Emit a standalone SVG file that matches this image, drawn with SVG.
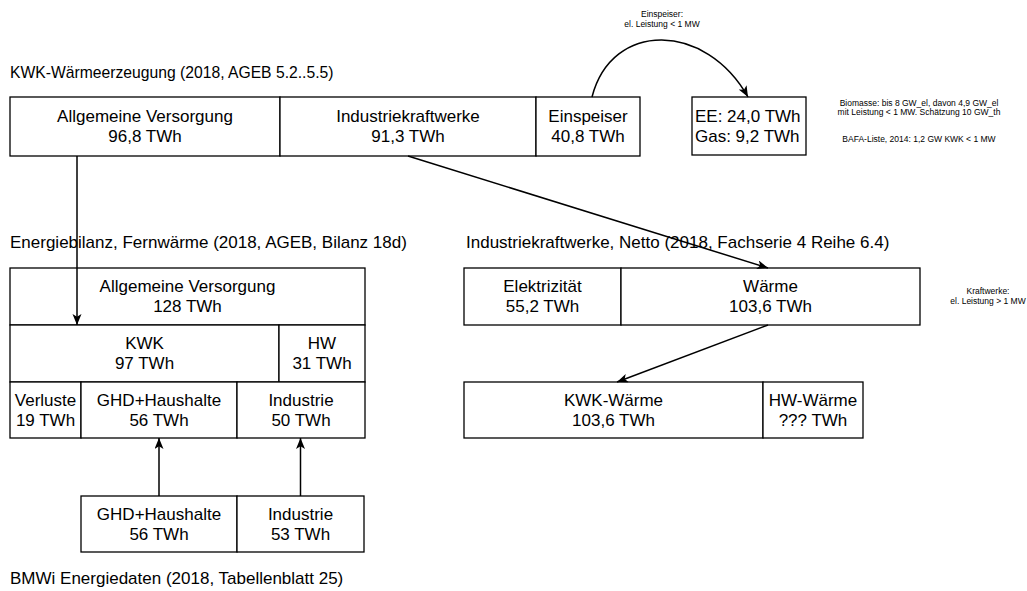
<svg xmlns="http://www.w3.org/2000/svg" width="1027" height="591" viewBox="0 0 1027 591">
<style>
.box{fill:#fff;stroke:#000;stroke-width:1.3}
.t{font-family:"Liberation Sans",Arial,sans-serif;font-size:17px;fill:#000;text-anchor:middle;dominant-baseline:central}
.h{font-family:"Liberation Sans",Arial,sans-serif;font-size:17px;fill:#000;dominant-baseline:central}
.s{font-family:"Liberation Sans",Arial,sans-serif;font-size:8.5px;fill:#000;text-anchor:middle;dominant-baseline:central}
.c{fill:none;stroke:#000;stroke-width:1.5}
</style>
<defs>
<marker id="ah" markerUnits="userSpaceOnUse" markerWidth="12" markerHeight="10" refX="11" refY="4.5" orient="auto">
<path d="M0,0 L11,4.5 L0,9 L2.8,4.5 Z" fill="#000"/>
</marker>
</defs>
<rect width="1027" height="591" fill="#fff"/>

<g id="headings">
<text class="h" x="10" y="72" style="font-size:15.7px">KWK-Wärmeerzeugung (2018, AGEB 5.2..5.5)</text>
<text class="h" x="10" y="242">Energiebilanz, Fernwärme (2018, AGEB, Bilanz 18d)</text>
<text class="h" x="466" y="242">Industriekraftwerke, Netto (2018, Fachserie 4 Reihe 6.4)</text>
<text class="h" x="10" y="578">BMWi Energiedaten (2018, Tabellenblatt 25)</text>
</g>

<g id="kwk-top">
<rect class="box" x="10" y="97" width="270" height="59"/>
<text class="t" x="145" y="116.5">Allgemeine Versorgung</text>
<text class="t" x="145" y="136.5">96,8 TWh</text>
<rect class="box" x="280" y="97" width="256" height="59"/>
<text class="t" x="408" y="116.5">Industriekraftwerke</text>
<text class="t" x="408" y="136.5">91,3 TWh</text>
<rect class="box" x="536" y="97" width="104" height="59"/>
<text class="t" x="588" y="116.5">Einspeiser</text>
<text class="t" x="588" y="136.5">40,8 TWh</text>
</g>

<g id="ee-gas">
<rect class="box" x="692" y="97" width="114" height="58"/>
<text class="h" x="695" y="116.5">EE: 24,0 TWh</text>
<text class="h" x="695" y="136.5">Gas: 9,2 TWh</text>
</g>

<g id="note-einspeiser">
<text class="s" x="662" y="14">Einspeiser:</text>
<text class="s" x="662" y="23.5">el. Leistung &lt; 1 MW</text>
</g>

<g id="note-biomasse">
<text class="s" x="919" y="102.5">Biomasse: bis 8 GW_el, davon 4,9 GW_el</text>
<text class="s" x="919" y="112">mit Leistung &lt; 1 MW. Schätzung 10 GW_th</text>
<text class="s" x="919" y="139">BAFA-Liste, 2014: 1,2 GW KWK &lt; 1 MW</text>
</g>

<g id="note-kraftwerke">
<text class="s" x="988" y="291">Kraftwerke:</text>
<text class="s" x="988" y="300.5">el. Leistung &gt; 1 MW</text>
</g>

<g id="fernwaerme">
<rect class="box" x="10" y="268" width="355" height="57"/>
<text class="t" x="187.5" y="286.5">Allgemeine Versorgung</text>
<text class="t" x="187.5" y="306.5">128 TWh</text>
<rect class="box" x="10" y="325" width="269" height="57"/>
<text class="t" x="144.5" y="343.5">KWK</text>
<text class="t" x="144.5" y="363.5">97 TWh</text>
<rect class="box" x="279" y="325" width="86" height="57"/>
<text class="t" x="322" y="343.5">HW</text>
<text class="t" x="322" y="363.5">31 TWh</text>
<rect class="box" x="10" y="382" width="71" height="56"/>
<text class="t" x="45.5" y="400">Verluste</text>
<text class="t" x="45.5" y="420">19 TWh</text>
<rect class="box" x="81" y="382" width="156" height="56"/>
<text class="t" x="159" y="400">GHD+Haushalte</text>
<text class="t" x="159" y="420">56 TWh</text>
<rect class="box" x="237" y="382" width="128" height="56"/>
<text class="t" x="301" y="400">Industrie</text>
<text class="t" x="301" y="420">50 TWh</text>
</g>

<g id="industrie-netto">
<rect class="box" x="464" y="268" width="157" height="57"/>
<text class="t" x="542.5" y="286.5">Elektrizität</text>
<text class="t" x="542.5" y="306.5">55,2 TWh</text>
<rect class="box" x="621" y="268" width="299" height="57"/>
<text class="t" x="770.5" y="286.5">Wärme</text>
<text class="t" x="770.5" y="306.5">103,6 TWh</text>
</g>

<g id="industrie-waerme">
<rect class="box" x="464" y="382" width="299" height="56"/>
<text class="t" x="613.5" y="400">KWK-Wärme</text>
<text class="t" x="613.5" y="420">103,6 TWh</text>
<rect class="box" x="763" y="382" width="100" height="56"/>
<text class="t" x="813" y="400">HW-Wärme</text>
<text class="t" x="813" y="420">??? TWh</text>
</g>

<g id="bmwi">
<rect class="box" x="81" y="496" width="156" height="56"/>
<text class="t" x="159" y="514">GHD+Haushalte</text>
<text class="t" x="159" y="534">56 TWh</text>
<rect class="box" x="237" y="496" width="127" height="56"/>
<text class="t" x="300.5" y="514">Industrie</text>
<text class="t" x="300.5" y="534">53 TWh</text>
</g>

<g id="connectors">
<path class="c" d="M77,156 L77,325" marker-end="url(#ah)"/>
<path class="c" d="M408,156 L768,268" marker-end="url(#ah)"/>
<path class="c" d="M768,325 L617,382" marker-end="url(#ah)"/>
<path class="c" d="M159,496 L159,438" marker-end="url(#ah)"/>
<path class="c" d="M300.5,496 L300.5,438" marker-end="url(#ah)"/>
<path class="c" d="M592,97 C612,20 706,22 748,97" marker-end="url(#ah)"/>
</g>
</svg>
